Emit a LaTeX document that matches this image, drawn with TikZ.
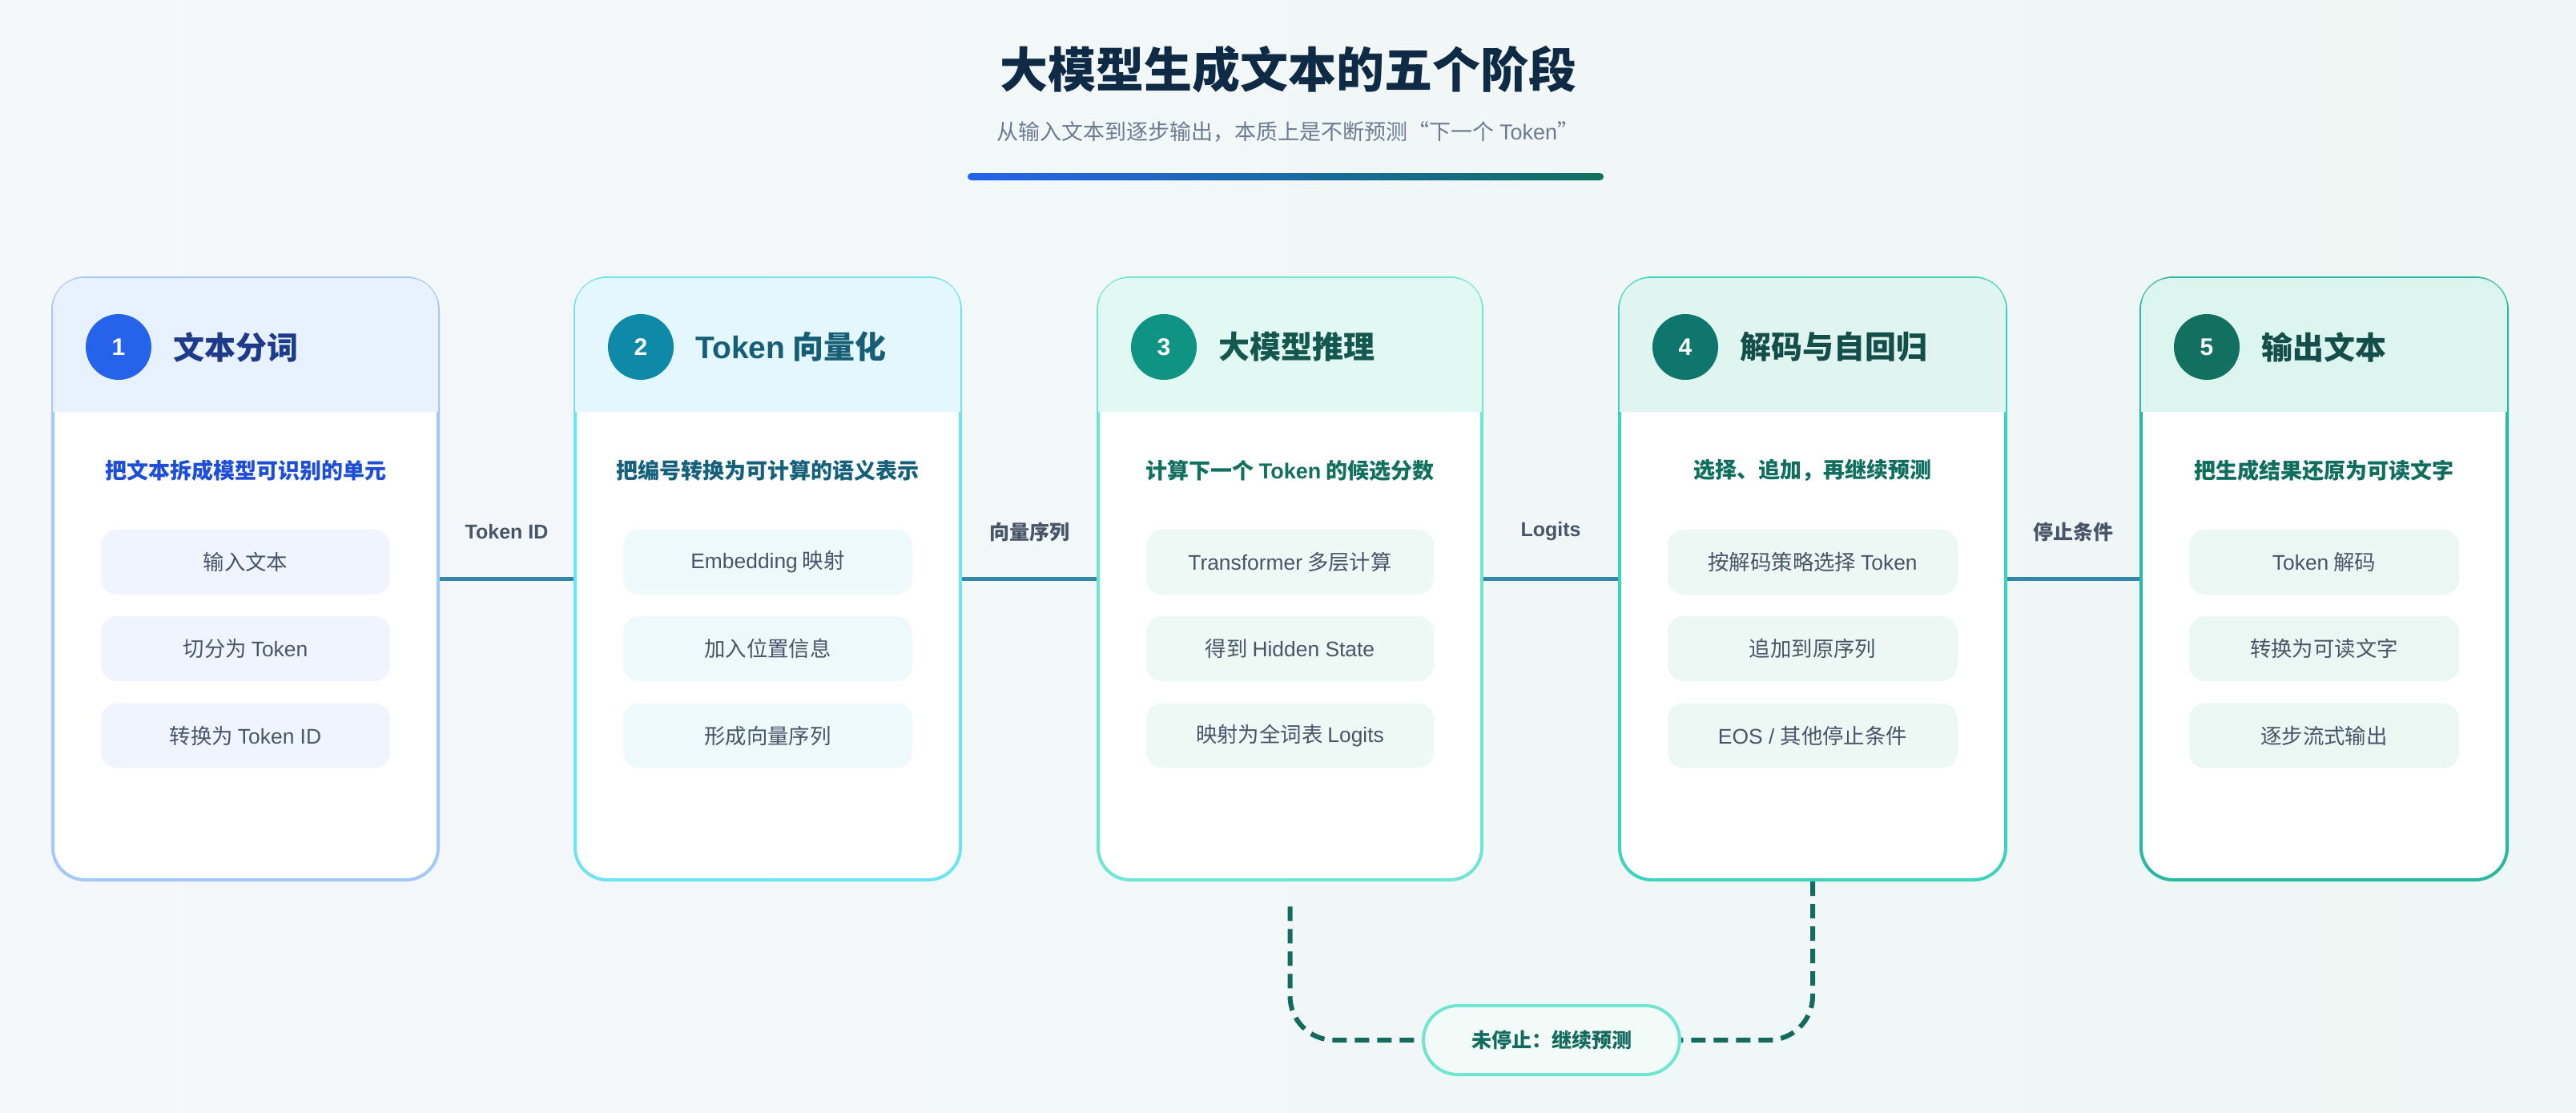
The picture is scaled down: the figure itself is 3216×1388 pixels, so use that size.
\documentclass[tikz,border=0pt]{standalone}
\usepackage{fontspec}
\setmainfont{Noto Sans CJK SC}
\newfontfamily\lt{Liberation Sans}
\usetikzlibrary{calc}
\definecolor{bgA}{HTML}{F5F7FA}
\definecolor{bgB}{HTML}{EEF7F5}
\definecolor{ttl}{HTML}{0F2A44}
\definecolor{sub}{HTML}{6B7B93}
\definecolor{itx}{HTML}{475569}
\definecolor{lnk}{HTML}{3487A8}
\definecolor{loopc}{HTML}{126B5E}
% card 1
\definecolor{bd1}{HTML}{A3C8FA}\definecolor{hd1}{HTML}{E8F1FE}\definecolor{ci1}{HTML}{2563EB}
\definecolor{tt1}{HTML}{1E3A8A}\definecolor{st1}{HTML}{1D4ED8}\definecolor{it1}{HTML}{F0F4FE}
% card 2
\definecolor{bd2}{HTML}{6EE3F3}\definecolor{hd2}{HTML}{E3F7FD}\definecolor{ci2}{HTML}{0E8AA8}
\definecolor{tt2}{HTML}{155E75}\definecolor{st2}{HTML}{15607A}\definecolor{it2}{HTML}{EEF9FC}
% card 3
\definecolor{bd3}{HTML}{6EE6D2}\definecolor{hd3}{HTML}{E2F8F3}\definecolor{ci3}{HTML}{0F9484}
\definecolor{tt3}{HTML}{14574F}\definecolor{st3}{HTML}{12705F}\definecolor{it3}{HTML}{EEF9F6}
% card 4
\definecolor{bd4}{HTML}{3FD3BD}\definecolor{hd4}{HTML}{E0F5EF}\definecolor{ci4}{HTML}{0F766E}
\definecolor{tt4}{HTML}{134E4A}\definecolor{st4}{HTML}{0F6E5E}\definecolor{it4}{HTML}{EDF8F4}
% card 5
\definecolor{bd5}{HTML}{2BB8A3}\definecolor{hd5}{HTML}{DDF5EF}\definecolor{ci5}{HTML}{11705F}
\definecolor{tt5}{HTML}{134E4A}\definecolor{st5}{HTML}{0F6E5E}\definecolor{it5}{HTML}{EAF7F3}
\tikzset{
  card/.style={draw, line width=2pt, fill=white, rounded corners=20pt, minimum height=375.5pt, inner sep=0pt},
  numc/.style={circle, minimum size=41pt, inner sep=0pt, text=white, font=\lt\bfseries\fontsize{15}{17}\selectfont},
  ctitle/.style={anchor=west, inner sep=0pt, font=\bfseries\fontsize{19.5}{22}\selectfont},
  csub/.style={inner sep=0pt, font=\bfseries\fontsize{13.5}{16}\selectfont},
  itembox/.style={rounded corners=10pt, minimum height=40.5pt, inner sep=0pt, text=itx, font=\fontsize{13.2}{15}\selectfont},
  conn/.style={draw=lnk, line width=2.5pt},
  lbl/.style={inner sep=2pt, text=itx, font=\bfseries\fontsize{12.5}{14}\selectfont},
  dashloop/.style={draw=loopc, line width=3pt, dash pattern=on 9pt off 5pt, rounded corners=27.5pt},
  pillbox/.style={draw=bd3, line width=2pt, fill=it3!70!white, rounded corners=21.5pt, minimum width=160pt, minimum height=43pt, inner sep=0pt, text=loopc, font=\bfseries\fontsize{12.5}{14}\selectfont}
}
\newcommand\stagecard[8]{%
  \pgfmathsetmacro\cx{(#2+#3)/2}%
  \pgfmathsetmacro\cw{(#3-#2)*0.5}%
  \pgfmathsetmacro\iw{(#3-#2-120)*0.5}%
  \node[card, draw=bd#1, minimum width=\cw pt] (c#1) at (\cx,722.5) {};
  \begin{scope}
    \clip[rounded corners=19pt] ([shift={(1pt,-1pt)}]c#1.north west) rectangle ([shift={(-1pt,1pt)}]c#1.south east);
    \fill[hd#1] (c#1.north west) rectangle (#3,514);
  \end{scope}
  \node[numc, fill=ci#1] (n#1) at (#2+82,433) {#1};
  \node[ctitle, text=tt#1] (t#1) at (#2+150,433) {#4};
  \node[csub, text=st#1] (s#1) at (\cx,587) {#5};
  \node[itembox, fill=it#1, minimum width=\iw pt] (i#1a) at (\cx,701.5) {#6};
  \node[itembox, fill=it#1, minimum width=\iw pt] (i#1b) at (\cx,809.5) {#7};
  \node[itembox, fill=it#1, minimum width=\iw pt] (i#1c) at (\cx,918) {#8};
}
\begin{document}
\begin{tikzpicture}[x=0.5pt,y=-0.5pt]
\useasboundingbox (0,0) rectangle (3216,1388);
\shade[left color=bgA, right color=bgB] (0,0) rectangle (3216,1388);
% header
\node[inner sep=0pt, text=ttl, font=\bfseries\fontsize{30}{34}\selectfont] (title) at (1608,87) {大模型生成文本的五个阶段};
\node[inner sep=0pt, text=sub, font=\fontsize{13.5}{16}\selectfont] (subtitle) at (1608,165) {从输入文本到逐步输出，本质上是不断预测“下一个 {\lt Token}”};
\shade[left color=ci1, right color=ci5, rounded corners=2.25pt] (1208,216) rectangle (2002,225);
% cards
\stagecard{1}{66}{547}{文本分词}{把文本拆成模型可识别的单元}{输入文本}{切分为 {\lt Token}}{转换为 {\lt Token ID}}
\stagecard{2}{718}{1199}{{\lt Token} 向量化}{把编号转换为可计算的语义表示}{{\lt Embedding} 映射}{加入位置信息}{形成向量序列}
\stagecard{3}{1371}{1850}{大模型推理}{计算下一个 {\lt Token} 的候选分数}{{\lt Transformer} 多层计算}{得到 {\lt Hidden State}}{映射为全词表 {\lt Logits}}
\stagecard{4}{2022}{2504}{解码与自回归}{选择、追加，再继续预测}{按解码策略选择 {\lt Token}}{追加到原序列}{{\lt EOS / }其他停止条件}
\stagecard{5}{2673}{3130}{输出文本}{把生成结果还原为可读文字}{{\lt Token} 解码}{转换为可读文字}{逐步流式输出}
% connectors
\draw[conn] (c1.east) -- node[lbl, yshift=29.5pt] (l1) {\lt Token ID} (c2.west);
\draw[conn] (c2.east) -- node[lbl, yshift=29.5pt] (l2) {向量序列} (c3.west);
\draw[conn] (c3.east) -- node[lbl, yshift=29.5pt] (l3) {\lt Logits} (c4.west);
\draw[conn] (c4.east) -- node[lbl, yshift=29.5pt] (l4) {停止条件} (c5.west);
% loop back
\coordinate (pc) at (1937,1298);
\coordinate (lp) at ([yshift=-14pt]c3.south);
\draw[dashloop] (c4.south) -- (c4.south |- pc) -- (lp |- pc) -- (lp);
\node[pillbox] (pill) at (pc) {未停止：继续预测};
\end{tikzpicture}
\end{document}
